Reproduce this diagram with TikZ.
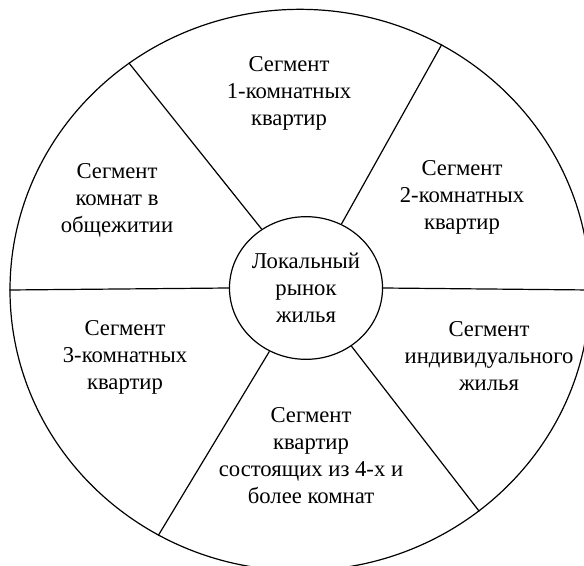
\documentclass[tikz,border=0pt]{standalone}
\usepackage{fontspec}
\setmainfont{Liberation Serif}
\usepackage{tikz}
\usetikzlibrary{shapes.geometric}
\usetikzlibrary{positioning}
\tikzstyle{segment} = [align=center, inner sep=0pt, font=\fontsize{17}{20.3}\selectfont]
\tikzstyle{spoke} = [line width=0.9pt]

\begin{document}
\begin{tikzpicture}[x=0.75pt, y=-0.75pt]

    \useasboundingbox (0,0) rectangle (584,566);
    \clip (0,0) rectangle (584,566);

    \node[ellipse,
        draw,
        line width=0.9pt,
        minimum width=435pt,
        minimum height=421pt,
        inner sep=0pt]
    (outer) at (300,290) {};

    \node[ellipse,
        draw,
        line width=0.9pt,
        minimum width=114pt,
        minimum height=107pt,
        inner sep=0pt,
        segment]
    (market) at (306,288) {
        Локальный\\
        рынок\\
        жилья
    };

    \node[segment] (onerooms) at (289,93) {
        Сегмент\\
        1-комнатных\\
        квартир
    };

    \node[segment] (tworooms) at (462,197) {
        Сегмент\\
        2-комнатных\\
        квартир
    };

    \node[segment] (hostel) at (117,200) {
        Сегмент\\
        комнат в\\
        общежитии
    };

    \node[segment] (threerooms) at (125,357) {
        Сегмент\\
        3-комнатных\\
        квартир
    };

    \node[segment] (private) at (489,356) {
        Сегмент\\
        индивидуального\\
        жилья
    };

    \node[segment] (fourrooms) at (311,456) {
        Сегмент\\
        квартир\\
        состоящих из 4-х и\\
        более комнат
    };

    \draw [spoke] (market.0) -- (outer.0);
    \draw [spoke] (market.61) -- (outer.60);
    \draw [spoke] (market.127) -- (outer.127);
    \draw [spoke] (market.180) -- (outer.180);
    \draw [spoke] (market.240) -- (outer.240);
    \draw [spoke] (market.308) -- (outer.309);

\end{tikzpicture}
\end{document}
